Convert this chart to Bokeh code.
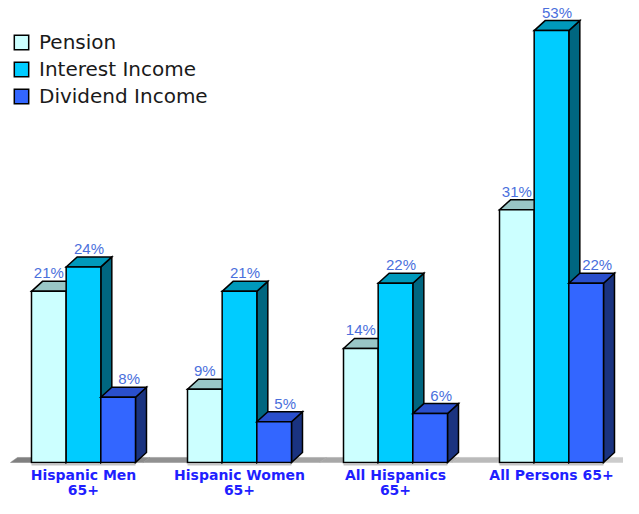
import numpy as np
from bokeh.plotting import figure
from bokeh.models import Range1d, Legend, LegendItem, ColumnDataSource
from bokeh.embed import file_html
from bokeh.resources import INLINE
from bokeh.core.properties import value

# ---- data ----
categories = ["Hispanic Men\n65+", "Hispanic Women\n65+", "All Hispanics\n65+", "All Persons 65+"]
series_names = ["Pension", "Interest Income", "Dividend Income"]
pension = [21, 9, 14, 31]
interest = [24, 21, 22, 53]
dividend = [8, 5, 6, 22]
series_values = [pension, interest, dividend]

# ---- style ----
front_colors = ["#CCFFFF", "#00CCFF", "#3366FF"]
top_colors = ["#99C6C6", "#0099BB", "#2A4FCC"]
side_colors = ["#5F8F8F", "#006680", "#1A3380"]
label_color = "#4A6FDC"
cat_color = "#1F1FFF"

W, H = 623, 498
BAR_W = 0.2222          # bar width in group units
DX, DY = 0.0705, 1.227  # 3D depth offset (x in group units, y in %)
FDX, FDY = 0.045, 0.62  # floor depth

p = figure(width=W, height=H, output_backend="svg", toolbar_location=None,
           x_range=Range1d(-0.532, 3.4615), y_range=Range1d(-4.417, 56.69),
           min_border=0, x_axis_location=None, y_axis_location=None)
p.xgrid.visible = False
p.ygrid.visible = False
p.outline_line_color = None
p.background_fill_color = "white"

n = len(categories)
idx = np.arange(n)

# floor (gradient gray strips)
f0, f1 = -0.468, 3.494
nstrip = 14
edges = np.linspace(f0, f1, nstrip + 1)
grays = np.linspace(0x80, 0xCC, nstrip).astype(int)
fxs, fys, fcols = [], [], []
for k in range(nstrip):
    a, b = edges[k], edges[k + 1]
    fxs.append([a, b, b + FDX, a + FDX])
    fys.append([0, 0, FDY, FDY])
    g = grays[k]
    fcols.append("#%02x%02x%02x" % (g, g, g))
p.patches(fxs, fys, fill_color=fcols, line_color=fcols, line_width=0.5)

# axis segments under each group
p.segment(x0=idx - 1.5 * BAR_W, x1=idx + 1.5 * BAR_W, y0=[-0.28] * n, y1=[-0.28] * n,
          line_color="#C4C4C4", line_width=1.5)

items = []
for j, vals in enumerate(series_values):
    v = np.array(vals, dtype=float)
    l = idx - 1.5 * BAR_W + j * BAR_W
    r = l + BAR_W
    side_xs = [[ri, ri + DX, ri + DX, ri] for ri in r]
    side_ys = [[0, DY, vi + DY, vi] for vi in v]
    top_xs = [[li, ri, ri + DX, li + DX] for li, ri in zip(l, r)]
    top_ys = [[vi, vi, vi + DY, vi + DY] for vi in v]
    p.patches(side_xs, side_ys, fill_color=side_colors[j], line_color="black",
              line_width=1.5, line_join="miter")
    p.patches(top_xs, top_ys, fill_color=top_colors[j], line_color="black",
              line_width=1.5, line_join="miter")
    fr = p.quad(left=l, right=r, bottom=0, top=v, fill_color=front_colors[j],
                line_color="black", line_width=1.5, line_join="miter")
    items.append(LegendItem(label=series_names[j], renderers=[fr]))
    src = ColumnDataSource(dict(x=(l + r) / 2 + j * DX / 2, y=v + DY,
                                t=["%d%%" % int(x) for x in vals]))
    p.text(x="x", y="y", text="t", source=src, text_align="center",
           text_baseline="bottom", y_offset=0, text_color=label_color,
           text_font=value("Liberation Sans"), text_font_size="15px")

# category labels
csrc = ColumnDataSource(dict(x=idx.astype(float), y=[0] * n, t=categories))
p.text(x="x", y="y", text="t", source=csrc, text_align="center", text_baseline="top",
       y_offset=4, text_color=cat_color, text_font=value("DejaVu Sans"),
       text_font_style="bold", text_font_size="14px", text_line_height=0.95)

legend = Legend(items=items, location=(12, 390), margin=0, padding=8, spacing=3,
                glyph_width=18, glyph_height=18, label_height=20, label_standoff=9,
                label_text_font="DejaVu Sans", label_text_font_size="20px",
                label_text_color="#1a1a1a", border_line_color=None,
                background_fill_alpha=0)
p.add_layout(legend)

open("out.html", "w").write(file_html(p, INLINE))
